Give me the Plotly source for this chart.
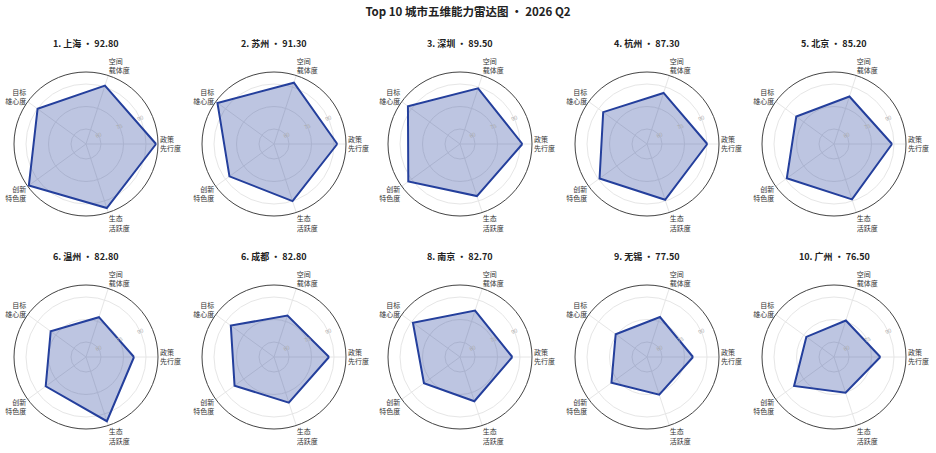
import plotly.graph_objects as go

title_text = "Top 10 城市五维能力雷达图 · 2026 Q2"
dimensions = ["政策<br>先行度", "空间<br>载体度", "目标<br>雄心度", "创新<br>特色度", "生态<br>活跃度"]
dim_angles = [0, 72, 144, 216, 288]

ranks = [1, 2, 3, 4, 5, 6, 6, 8, 9, 10]
cities = ["上海", "苏州", "深圳", "杭州", "北京", "温州", "成都", "南京", "无锡", "广州"]
scores = [92.80, 91.30, 89.50, 87.30, 85.20, 82.80, 82.80, 82.70, 77.50, 76.50]

shanghai = [96.7, 90.9, 89.9, 97.1, 94.9]
suzhou = [92.2, 93.0, 96.6, 86.7, 90.0]
shenzhen = [91.6, 89.0, 92.9, 92.6, 86.5]
hangzhou = [90.2, 85.8, 86.1, 89.1, 89.1]
beijing = [88.7, 83.3, 81.1, 88.9, 88.8]
wenzhou = [82.0, 77.9, 79.1, 83.2, 95.0]
chengdu = [86.7, 79.1, 85.6, 82.5, 82.0]
nanjing = [84.9, 82.5, 88.8, 79.7, 81.0]
wuxi = [80.7, 78.0, 75.8, 79.3, 76.4]
guangzhou = [80.9, 75.6, 72.8, 82.9, 75.0]

series = [shanghai, suzhou, shenzhen, hangzhou, beijing,
          wenzhou, chengdu, nanjing, wuxi, guangzhou]

radial_range = [50, 98]
radial_ticks = [60, 75, 90]

W, H = 936, 453
col_cx = [86, 274, 460, 647, 834]
row_cy = [144, 357]
R = 72
title_dy = 101

FONT = "Noto Sans CJK SC"
LINE = "#243f9c"
FILL = "rgba(36,63,156,0.30)"


def px(x):
    return x / W


def py(y):
    return 1 - y / H


fig = go.Figure()
annotations = []
for i in range(10):
    row, col = divmod(i, 5)
    cx, cy = col_cx[col], row_cy[row]
    key = "polar" if i == 0 else f"polar{i+1}"
    vals = series[i]
    fig.add_trace(go.Scatterpolar(
        r=vals + [vals[0]],
        theta=dim_angles + [dim_angles[0]],
        mode="lines",
        fill="toself",
        fillcolor=FILL,
        line=dict(color=LINE, width=2),
        subplot=key,
        showlegend=False,
        hoverinfo="skip",
    ))
    fig.layout[key] = dict(
        domain=dict(x=[px(cx - R), px(cx + R)],
                    y=[py(cy + R), py(cy - R)]),
        bgcolor="white",
        radialaxis=dict(range=radial_range, tickvals=radial_ticks,
                        showline=False, ticks="", angle=22,
                        side="counterclockwise",
                        tickfont=dict(size=5.5, color="#aaaaaa", family=FONT),
                        gridcolor="#e6e6e6", gridwidth=1),
        angularaxis=dict(direction="counterclockwise", rotation=0,
                         tickmode="array", tickvals=dim_angles, ticktext=dimensions,
                         ticks="", showline=True, linecolor="#444444", linewidth=1,
                         gridcolor="#e6e6e6", gridwidth=1,
                         tickfont=dict(size=7, color="#333333", family=FONT)),
    )
    annotations.append(dict(
        text=f"<b>{ranks[i]}. {cities[i]} · {scores[i]:.2f}</b>",
        x=px(cx), y=py(cy - title_dy), xref="paper", yref="paper",
        xanchor="center", yanchor="middle", showarrow=False,
        font=dict(size=9, color="#222222", family=FONT),
    ))

fig.update_layout(
    width=W, height=H,
    margin=dict(l=0, r=0, t=0, b=0),
    paper_bgcolor="white",
    font=dict(family=FONT),
    title=dict(text=f"<b>{title_text}</b>", x=px(468), xanchor="center",
               y=py(12), yanchor="middle",
               font=dict(size=11.5, color="#222222", family=FONT)),
    annotations=annotations,
)

fig.write_html("out.html",
               config={"displayModeBar": False},
               post_script="document.body.style.margin='0';document.body.style.overflow='hidden';")
